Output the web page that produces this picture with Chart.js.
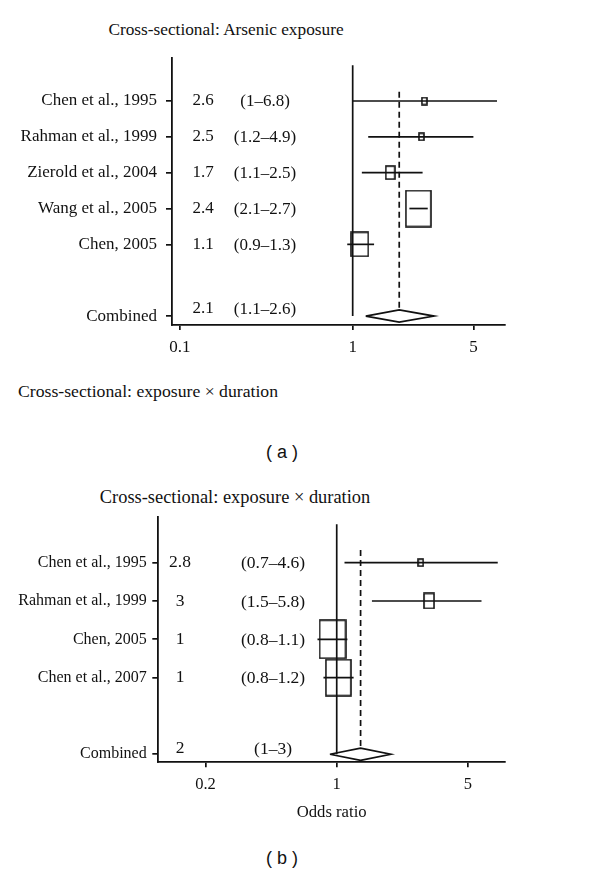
<!DOCTYPE html>
<html><head><meta charset="utf-8">
<script src="https://cdn.jsdelivr.net/npm/chart.js@4.4.1/dist/chart.umd.min.js"></script>
<style>
html,body{margin:0;padding:0;background:#fff;}
body{width:600px;height:873px;position:relative;overflow:hidden;font-family:"Liberation Serif",serif;color:#111;}
.t{position:absolute;white-space:nowrap;line-height:1;transform:translate(-50%,-50%);}
.l{position:absolute;white-space:nowrap;line-height:1;transform:translate(0,-50%);}
.sans{font-family:"Liberation Sans",Arial,sans-serif;}
canvas{position:absolute;left:0;}
</style></head><body>
<div class="t" style="left:226px;top:30px;font-size:17.3px">Cross-sectional: Arsenic exposure</div>
<div class="l" style="left:18px;top:392px;font-size:17.7px">Cross-sectional: exposure × duration</div>
<div class="t sans" style="left:282px;top:452px;font-size:18px">( a )</div>
<div class="t" style="left:235px;top:497px;font-size:18.4px">Cross-sectional: exposure × duration</div>
<div class="t sans" style="left:282px;top:858px;font-size:18px">( b )</div>
<canvas id="ca" width="600" height="370" style="top:0"></canvas>
<canvas id="cb" width="600" height="360" style="top:470px"></canvas>
<script>
// ---------- Panel (a): Arsenic exposure ----------
const studiesA = ["Chen et al., 1995", "Rahman et al., 1999", "Zierold et al., 2004", "Wang et al., 2005", "Chen, 2005"];
const orA = [2.6, 2.5, 1.65, 2.4, 1.1];
const loA = [1.0, 1.23, 1.13, 2.13, 0.93];
const hiA = [6.85, 5.0, 2.54, 2.72, 1.33];
const weightA = [4.5, 5, 9, 25, 16.5];
const estTextA = ["2.6", "2.5", "1.7", "2.4", "1.1"];
const ciTextA = ["(1–6.8)", "(1.2–4.9)", "(1.1–2.5)", "(2.1–2.7)", "(0.9–1.3)"];
const combinedA = {or: 1.86, lo: 1.19, hi: 2.96, est: "2.1", ci: "(1.1–2.6)"};
const rowsA = [1, 2, 3, 4, 5];
const combinedRowA = 7;
const xTicksA = [0.1, 1, 5];

// ---------- Panel (b): exposure x duration ----------
const studiesB = ["Chen et al., 1995", "Rahman et al., 1999", "Chen, 2005", "Chen et al., 2007"];
const orB = [2.8, 3.1, 0.95, 1.02];
const loB = [1.1, 1.54, 0.79, 0.85];
const hiB = [7.2, 5.9, 1.14, 1.23];
const weightB = [5, 10, 26, 25];
const estTextB = ["2.8", "3", "1", "1"];
const ciTextB = ["(0.7–4.6)", "(1.5–5.8)", "(0.8–1.1)", "(0.8–1.2)"];
const combinedB = {or: 1.34, lo: 0.92, hi: 1.94, est: "2", ci: "(1–3)"};
const rowsB = [1, 2, 3, 4];
const combinedRowB = 6;
const xTicksB = [0.2, 1, 5];

const INK = '#111';
const SERIF = '"Liberation Serif", "Times New Roman", serif';
const LW = 1.7;

function boxImage(w) {
  const bw = Math.round(w), bh = Math.round(w * 1.45);
  const c = document.createElement('canvas');
  c.width = bw + 2; c.height = bh + 2;
  const g = c.getContext('2d');
  g.strokeStyle = INK; g.lineWidth = 1.6;
  g.strokeRect(1, 1, bw, bh);
  return c;
}

const textPlugin = {
  id: 'forestText',
  afterDatasetsDraw(chart, args, o) {
    const {ctx, chartArea, scales} = chart;
    const y = scales.y;
    ctx.save();
    ctx.font = o.size + 'px ' + SERIF;
    ctx.fillStyle = INK;
    ctx.textAlign = 'center';
    ctx.textBaseline = 'middle';
    o.rows.forEach((r, i) => {
      const py = y.getPixelForValue(r) - (o.raise[i] || 0);
      ctx.fillText(o.est[i], chartArea.left + o.estX, py);
      ctx.fillText(o.ci[i], chartArea.left + o.ciX, py + 1);
    });
    ctx.restore();
  }
};

function makeForest(id, D, L) {
  const labelMap = {};
  D.rows.forEach((r, i) => labelMap[r] = D.studies[i]);
  labelMap[D.combRow] = 'Combined';
  const datasets = [];
  // reference line at OR = 1
  datasets.push({data: [{x: 1, y: 0}, {x: 1, y: D.combRow}], showLine: true, borderColor: INK, borderWidth: LW, pointRadius: 0});
  // dashed line at combined estimate
  datasets.push({data: [{x: D.comb.or, y: L.dashTop}, {x: D.comb.or, y: D.combRow - L.dh}], showLine: true, borderColor: INK, borderWidth: LW, borderDash: [6, 4], pointRadius: 0});
  // confidence intervals
  D.rows.forEach((r, i) => {
    datasets.push({data: [{x: D.lo[i], y: r}, {x: D.hi[i], y: r}], showLine: true, borderColor: INK, borderWidth: LW, pointRadius: 0});
  });
  // weighted boxes
  const imgs = D.weights.map(boxImage);
  datasets.push({data: D.rows.map((r, i) => ({x: D.or[i], y: r})), showLine: false, pointRadius: 4, pointStyle: imgs, borderColor: INK});
  // combined diamond
  const cr = D.combRow;
  datasets.push({data: [{x: D.comb.lo, y: cr}, {x: D.comb.or, y: cr - L.dh}, {x: D.comb.hi, y: cr}, {x: D.comb.or, y: cr + L.dh}, {x: D.comb.lo, y: cr}],
    showLine: true, borderColor: INK, borderWidth: LW, pointRadius: 0, tension: 0});

  const font = {family: SERIF, size: L.fs};
  const tfont = {family: SERIF, size: L.xfs};
  return new Chart(document.getElementById(id), {
    type: 'scatter',
    data: {datasets},
    plugins: [textPlugin],
    options: {
      responsive: false, animation: false, events: [],
      layout: {padding: {left: 0, right: 600 - L.right, top: L.top, bottom: 0}},
      plugins: {
        legend: {display: false}, tooltip: {enabled: false},
        forestText: {rows: D.rows.concat([cr]), est: D.est.concat([D.comb.est]), ci: D.ci.concat([D.comb.ci]),
          raise: D.rows.map(() => L.rowRaise).concat([L.combRaise]), estX: L.estX, ciX: L.ciX, size: L.tfs}
      },
      scales: {
        x: {
          type: 'logarithmic', position: 'bottom', min: L.xMin, max: L.xMax,
          afterBuildTicks: s => { s.ticks = D.xTicks.map(v => ({value: v})); },
          afterFit: s => { s.height = L.h - L.bottom; },
          ticks: {callback: v => String(v), font: tfont, color: INK, padding: 7, autoSkip: false, maxRotation: 0},
          grid: {display: true, drawOnChartArea: false, drawTicks: true, tickLength: 5, color: INK, lineWidth: LW},
          border: {display: true, color: INK, width: 1.8},
          title: L.xTitle ? {display: true, text: L.xTitle, font: {family: SERIF, size: 16.7}, color: INK, padding: {top: 0, bottom: L.titlePad}} : {display: false}
        },
        y: {
          type: 'linear', reverse: true, min: L.yMin, max: L.yMax,
          afterBuildTicks: s => { s.ticks = D.rows.concat([cr]).map(v => ({value: v})); },
          afterFit: s => { s.width = L.left; },
          ticks: {callback: v => labelMap[v] || '', font, color: INK, padding: L.tickPad, autoSkip: false},
          grid: {display: true, drawOnChartArea: false, drawTicks: true, tickLength: 6, color: INK, lineWidth: LW},
          border: {display: true, color: INK, width: 1.8}
        }
      }
    }
  });
}

makeForest('ca',
  {studies: studiesA, or: orA, lo: loA, hi: hiA, weights: weightA, est: estTextA, ci: ciTextA, comb: combinedA, rows: rowsA, combRow: combinedRowA, xTicks: xTicksA},
  {left: 172, right: 505, top: 58, bottom: 325, h: 370, yMin: -0.2, yMax: 7.25, xMin: 0.0899, xMax: 7.62,
   fs: 17, tfs: 17, xfs: 17, tickPad: 9, estX: 31, ciX: 93, rowRaise: 0, combRaise: 8, dashTop: 0.74, dh: 0.17});

makeForest('cb',
  {studies: studiesB, or: orB, lo: loB, hi: hiB, weights: weightB, est: estTextB, ci: ciTextB, comb: combinedB, rows: rowsB, combRow: combinedRowB, xTicks: xTicksB},
  {left: 158.3, right: 505, top: 46.7, bottom: 292.3, h: 360, yMin: -0.2, yMax: 6.21, xMin: 0.1122, xMax: 7.87,
   fs: 16, tfs: 17.5, xfs: 16.5, tickPad: 5.6, estX: 21.7, ciX: 114.7, rowRaise: 0, combRaise: 6, dashTop: 0.67, dh: 0.16,
   xTitle: 'Odds ratio', titlePad: 7.7});
</script>
</body></html>
